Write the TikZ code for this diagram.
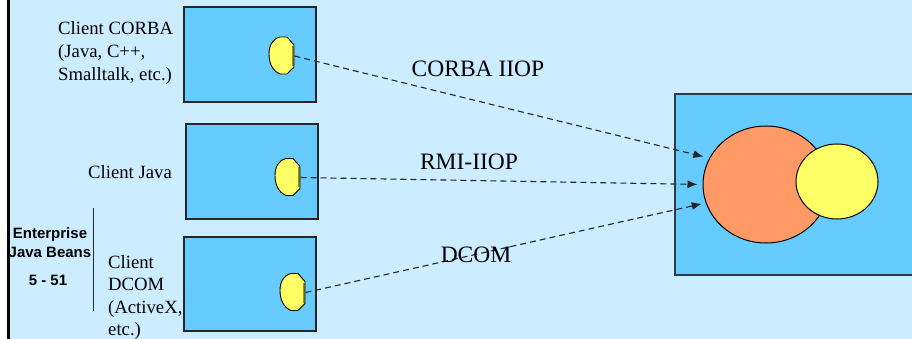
\documentclass[tikz,border=0pt]{standalone}
\usepackage{fontspec}
\setmainfont{Liberation Serif}
\newfontfamily\arialfont{Liberation Sans}
\usetikzlibrary{shapes.geometric,arrows.meta}
\definecolor{bgblue}{RGB}{204,236,255}
\definecolor{boxblue}{RGB}{102,204,255}
\definecolor{ylw}{RGB}{255,255,102}
\definecolor{orng}{RGB}{255,153,102}
\definecolor{edgecol}{RGB}{45,60,75}
\definecolor{plugedge}{RGB}{150,150,40}
\tikzset{
  clientbox/.style={draw=black!85, line width=1.2pt, fill=boxblue, inner sep=0pt},
  serverbox/.style={draw=edgecol, line width=2pt, fill=boxblue, inner sep=0pt},
  clientlabel/.style={font=\fontsize{18.7}{22.6}\selectfont, inner sep=0pt, align=left},
  protolabel/.style={font=\fontsize{23.5}{28}\selectfont, inner sep=0pt},
  ejblabel/.style={font=\arialfont\bfseries\fontsize{15}{19}\selectfont, inner sep=0pt, align=center},
  link/.style={draw=black!85, line width=1.1pt, dash pattern=on 6pt off 4pt, -{Latex[length=10pt,width=8pt]}},
  plug/.pic={
    \fill[ylw] (0,-11) -- (-7,-19) -- (-14,-19) .. controls (-22,-17) and (-25,-10) .. (-25,-2)
      .. controls (-25,8) and (-21,15) .. (-14,18) -- (-7,18) -- (0,11) -- cycle;
    \draw[line width=1.6pt, plugedge] (-0.9,-10) -- (-0.9,10);
    \draw[line width=0.9pt, black] (0,-11) -- (-7,-19) -- (-14,-19) .. controls (-22,-17) and (-25,-10) .. (-25,-2)
      .. controls (-25,8) and (-21,15) .. (-14,18) -- (-7,18) -- (0,11) -- cycle;
    \coordinate (-pin) at (0.5,0);
  }
}
\begin{document}
\begin{tikzpicture}[x=1pt,y=-1pt]
\useasboundingbox (0,0) rectangle (912,339);
\fill[white] (0,0) rectangle (10,339);
\fill[bgblue] (10,0) rectangle (912,339);

% client boxes
\node[clientbox, minimum width=132pt, minimum height=95pt] (b1) at (250,54.5) {};
\node[clientbox, minimum width=132pt, minimum height=95pt] (b2) at (252,171.5) {};
\node[clientbox, minimum width=132pt, minimum height=94pt] (b3) at (250,284) {};

% server box
\node[serverbox, minimum width=240pt, minimum height=181pt] (srv) at (795,184.5) {};
\node[ellipse, draw=black, line width=1pt, fill=orng, minimum width=126pt, minimum height=117pt, inner sep=0pt] (orange) at (766,184.5) {};
\node[ellipse, draw=black, line width=1pt, fill=ylw, minimum width=82pt, minimum height=75pt, inner sep=0pt] (yellow) at (837,181.5) {};

% plugs
\pic (s1) at (294,56) {plug};
\pic (s2) at (300,177.5) {plug};
\pic (s3) at (305,292.5) {plug};

% client labels
\node[clientlabel, anchor=west] (l1) at (58,53) {Client CORBA\\(Java, C++,\\Smalltalk, etc.)};
\node[clientlabel] (l2) at (130,172) {Client Java};
\node[clientlabel, anchor=west] (l3) at (108,297.5) {Client\\DCOM\\(ActiveX,\\etc.)};

% connectors
\draw[link, shorten >=6pt] (s1-pin) -- (orange.155.9);
\draw[link, shorten >=5pt] (s2-pin) -- (orange.west);
\draw[link, shorten >=4pt] (s3-pin) -- (orange.197);

% protocol labels
\node[protolabel] (p1) at (478,69) {CORBA IIOP};
\node[protolabel] (p2) at (469,162) {RMI-IIOP};
\node[protolabel] (p3) at (476,255) {DCOM};

% side title
\node[ejblabel] (ejb) at (50,242.5) {Enterprise\\Java Beans};
\node[ejblabel] (pg) at (48,280) {5 - 51};
\draw[line width=1pt, black!85] (93,208) -- (93,311);

% left border
\draw[line width=3pt, black] (8.5,0) -- (8.5,339);
\end{tikzpicture}
\end{document}
